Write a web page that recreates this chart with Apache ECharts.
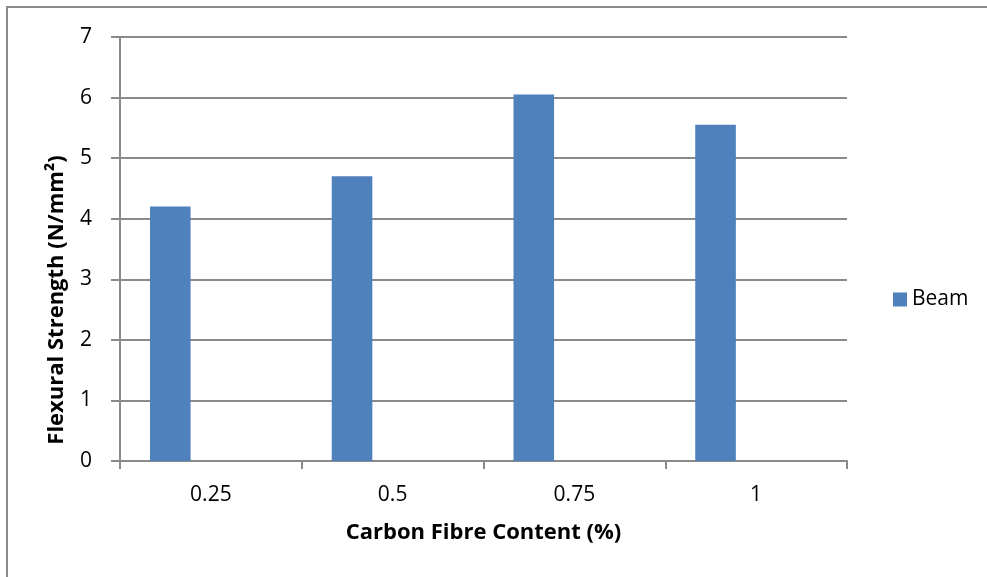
<!DOCTYPE html>
<html>
<head>
<meta charset="utf-8">
<script src="https://cdn.jsdelivr.net/npm/echarts@6/dist/echarts.min.js"></script>
<style>
  html, body { margin: 0; padding: 0; background: #ffffff; }
  #chart { width: 987px; height: 577px; }
</style>
</head>
<body>
<div id="chart"></div>
<script>
// Flexural strength of beams by carbon fibre content
const categories = ['0.25', '0.5', '0.75', '1'];
const beamValues = [4.2, 4.7, 6.05, 5.55];
// two unused series slots in the cluster (no values)
const emptyA = [null, null, null, null];
const emptyB = [null, null, null, null];
const yTicks = { min: 0, max: 7, interval: 1 };

const FONT = '"Open Sans", sans-serif';
const AXIS_GREY = '#8a8a8a';
const SIZE = 21;
const TITLE_SIZE = 22;

const chart = echarts.init(document.getElementById('chart'), null, { renderer: 'canvas' });

chart.setOption({
  animation: false,
  backgroundColor: '#ffffff',
  grid: { left: 120, top: 37, right: 140, bottom: 116, containLabel: false },
  graphic: [
    {
      type: 'rect',
      shape: { x: 7, y: 7, width: 1100, height: 1100 },
      style: { fill: 'none', stroke: '#8c8c8c', lineWidth: 2 },
      silent: true
    },
    {
      type: 'text',
      x: 57,
      y: 300,
      rotation: Math.PI / 2,
      style: {
        text: 'Flexural Strength (N/mm²)',
        font: 'bold ' + TITLE_SIZE + 'px ' + FONT,
        fill: '#000000',
        align: 'center',
        verticalAlign: 'middle'
      }
    }
  ],
  legend: {
    data: ['Beam'],
    orient: 'vertical',
    left: 888,
    top: 284,
    icon: 'rect',
    itemWidth: 14,
    itemHeight: 14,
    itemGap: 8,
    textStyle: { fontFamily: FONT, fontSize: SIZE, color: '#000000' }
  },
  xAxis: {
    type: 'category',
    data: categories,
    boundaryGap: true,
    name: 'Carbon Fibre Content (%)',
    nameLocation: 'middle',
    nameGap: 61,
    nameTextStyle: { fontFamily: FONT, fontSize: TITLE_SIZE, fontWeight: 'bold', color: '#000000' },
    axisLine: { show: true, lineStyle: { color: AXIS_GREY, width: 2 } },
    axisTick: { show: true, alignWithLabel: false, length: 8, lineStyle: { color: AXIS_GREY, width: 2 } },
    axisLabel: { margin: 24, fontFamily: FONT, fontSize: SIZE, color: '#000000' },
    splitLine: { show: false }
  },
  yAxis: {
    type: 'value',
    min: yTicks.min,
    max: yTicks.max,
    interval: yTicks.interval,
    axisLine: { show: true, lineStyle: { color: AXIS_GREY, width: 2 } },
    axisTick: { show: true, length: 9, lineStyle: { color: AXIS_GREY, width: 2 } },
    axisLabel: { margin: 28, fontFamily: FONT, fontSize: SIZE, color: '#000000' },
    splitLine: { show: true, lineStyle: { color: AXIS_GREY, width: 2 } }
  },
  series: [
    {
      name: 'Beam',
      type: 'bar',
      data: beamValues,
      barGap: '0%',
      barCategoryGap: '33%',
      itemStyle: { color: '#4f81bd' }
    },
    { name: 'slotB', type: 'bar', data: emptyA, barGap: '0%', barCategoryGap: '33%' },
    { name: 'slotC', type: 'bar', data: emptyB, barGap: '0%', barCategoryGap: '33%' }
  ]
});
</script>
</body>
</html>
